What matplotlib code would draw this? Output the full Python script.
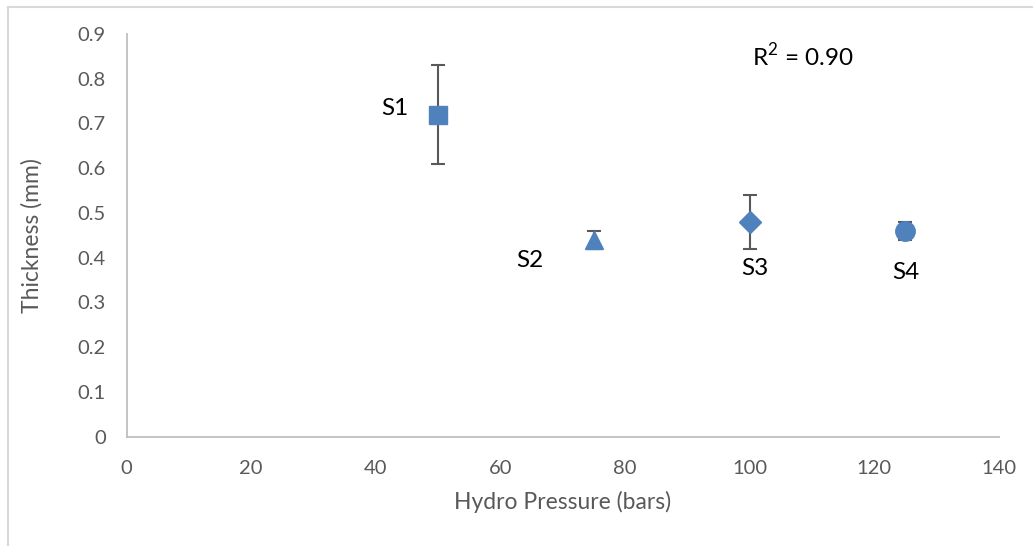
import matplotlib.pyplot as plt
from matplotlib.lines import Line2D

plt.rcParams['font.family'] = ['Lato', 'DejaVu Sans']
plt.rcParams['mathtext.fontset'] = 'custom'
plt.rcParams['mathtext.rm'] = 'Lato'

samples = ['S1', 'S2', 'S3', 'S4']
pressure = [50, 75, 100, 125]
thickness = [0.72, 0.44, 0.48, 0.46]
err = [0.11, 0.02, 0.06, 0.02]
markers = ['s', '^', 'D', 'o']
msizes = [13.5, 13, 11, 14]

blue = '#4f81bd'
grey = '#595959'

fig = plt.figure(figsize=(10.33, 5.46), dpi=100)
ax = fig.add_axes([0.1225, 0.2005, 0.8445, 0.7372])

for x, y, e, m, s in zip(pressure, thickness, err, markers, msizes):
    ax.errorbar(x, y, yerr=e, fmt='none', ecolor=grey, elinewidth=1.5, capsize=5, capthick=1.5, zorder=2)
    ax.plot(x, y, marker=m, ms=s, color=blue, linestyle='none', zorder=3)

# sample labels
label_pos = [(43.1, 0.734), (64.7, 0.394), (100.8, 0.376), (125.1, 0.367)]
for name, (lx, ly) in zip(samples, label_pos):
    ax.text(lx, ly, name, fontsize=17.5, ha='center', va='center', color='black')

ax.text(108.5, 0.852, r'$\mathrm{R}^2$ = 0.90', fontsize=17.5, ha='center', va='center', color='black')

ax.set_xlim(0, 140)
ax.set_ylim(0, 0.9)
ax.set_xticks(range(0, 141, 20))
ax.set_yticks([i / 10 for i in range(10)])
ax.set_yticklabels(['0'] + ['%.1f' % (i / 10) for i in range(1, 10)])
ax.tick_params(length=0, labelsize=14.5, colors=grey)
ax.tick_params(axis='y', pad=15)
ax.tick_params(axis='x', pad=17)
for sp in ['top', 'right']:
    ax.spines[sp].set_visible(False)
for sp in ['left', 'bottom']:
    ax.spines[sp].set_color('#bfbfbf')
    ax.spines[sp].set_linewidth(1.3)

ax.set_xlabel('Hydro Pressure (bars)', fontsize=16.5, color=grey, labelpad=10)
ax.set_ylabel('Thickness (mm)', fontsize=16.5, color=grey, labelpad=25)

# chart frame (top and left edges only visible)
fig.add_artist(Line2D([0.0082, 1.0], [0.988, 0.988], color='#d9d9d9', lw=1.5, transform=fig.transFigure))
fig.add_artist(Line2D([0.0082, 0.0082], [0.0, 0.988], color='#d9d9d9', lw=1.5, transform=fig.transFigure))

fig.savefig('out.png', dpi=100)
